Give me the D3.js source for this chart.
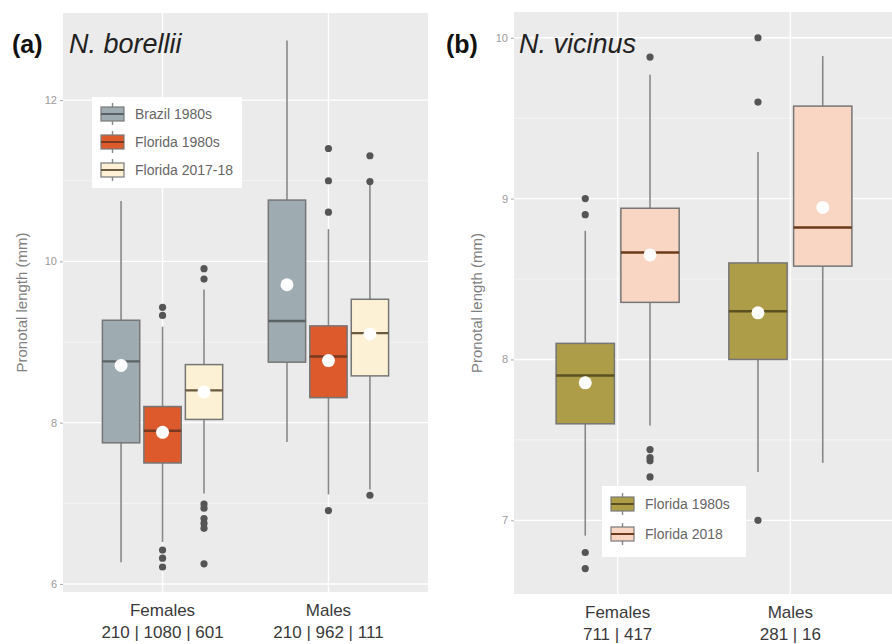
<!DOCTYPE html>
<html>
<head>
<meta charset="utf-8">
<script src="https://cdn.jsdelivr.net/npm/d3@7"></script>
<style>
  body { margin: 0; background: #fff; }
  svg { display: block; font-family: "Liberation Sans", Arial, sans-serif; }
</style>
</head>
<body>
<svg id="chart" width="892" height="644"></svg>
<script>
// ---- data ----
const sexes = ["Females", "Males"];

const groupsA = ["Brazil 1980s", "Florida 1980s", "Florida 2017-18"];
const countsA = ["210 | 1080 | 601", "210 | 962 | 111"];
// [sex, group, whiskerLow, q1, median, q3, whiskerHigh, mean]
const boxesA = [
  ["Females", "Brazil 1980s", 6.27, 7.75, 8.76, 9.27, 10.75, 8.71],
  ["Females", "Florida 1980s", 6.52, 7.50, 7.90, 8.20, 9.19, 7.88],
  ["Females", "Florida 2017-18", 7.12, 8.04, 8.40, 8.72, 9.65, 8.38],
  ["Males", "Brazil 1980s", 7.76, 8.75, 9.26, 10.76, 12.74, 9.71],
  ["Males", "Florida 1980s", 7.11, 8.31, 8.82, 9.20, 10.40, 8.77],
  ["Males", "Florida 2017-18", 7.17, 8.58, 9.11, 9.53, 10.95, 9.10]
];
const outliersA = [
  ["Females", "Florida 1980s", [9.43, 9.33, 6.42, 6.32, 6.21]],
  ["Females", "Florida 2017-18", [9.91, 9.78, 6.99, 6.94, 6.81, 6.75, 6.69, 6.25]],
  ["Males", "Florida 1980s", [11.40, 11.00, 10.61, 6.91]],
  ["Males", "Florida 2017-18", [11.31, 10.99, 7.10]]
];
const ticksA = [6, 8, 10, 12];
const minorA = [7, 9, 11];

const groupsB = ["Florida 1980s", "Florida 2018"];
const countsB = ["711 | 417", "281 | 16"];
const boxesB = [
  ["Females", "Florida 1980s", 6.905, 7.60, 7.90, 8.10, 8.80, 7.855],
  ["Females", "Florida 2018", 7.59, 8.355, 8.665, 8.94, 9.77, 8.65],
  ["Males", "Florida 1980s", 7.30, 8.00, 8.30, 8.60, 9.29, 8.29],
  ["Males", "Florida 2018", 7.357, 8.58, 8.82, 9.575, 9.886, 8.945]
];
const outliersB = [
  ["Females", "Florida 1980s", [9.00, 8.90, 6.80, 6.70]],
  ["Females", "Florida 2018", [9.88, 7.44, 7.39, 7.37, 7.27]],
  ["Males", "Florida 1980s", [10.00, 9.60, 7.00]]
];
const ticksB = [7, 8, 9, 10];
const minorB = [7.5, 8.5, 9.5];

// ---- styles ----
const fillA = { "Brazil 1980s": "#9eabb1", "Florida 1980s": "#dc5a2c", "Florida 2017-18": "#fcf1d4" };
const medA = { "Brazil 1980s": "#5b6266", "Florida 1980s": "#7a3a22", "Florida 2017-18": "#6a5a42" };
const fillB = { "Florida 1980s": "#ad9c48", "Florida 2018": "#f9d6c3" };
const medB = { "Florida 1980s": "#5a5022", "Florida 2018": "#6b3a1a" };

const svg = d3.select("#chart");

function drawPanel(cfg) {
  const g = svg.append("g");
  const { x0, x1, y0, y1 } = cfg.box;

  const y = d3.scaleLinear().domain(cfg.yDomain).range([y1, y0]);
  const x = d3.scaleBand().domain(sexes).range([x0, x1]).paddingInner(0).paddingOuter(0.1);
  const n = cfg.groups.length;
  const xg = d3.scaleBand().domain(cfg.groups).range([0, x.bandwidth()])
    .paddingInner(0).paddingOuter((n / 0.75 - n) / 2);
  const bw = xg.bandwidth() * 0.9;
  const cx = (sex, grp) => x(sex) + xg(grp) + xg.bandwidth() / 2;

  // panel background + grid
  g.append("rect").attr("x", x0).attr("y", y0)
    .attr("width", x1 - x0).attr("height", y1 - y0).attr("fill", "#ebebeb");
  g.selectAll(".minor").data(cfg.minor).join("line")
    .attr("x1", x0).attr("x2", x1)
    .attr("y1", d => y(d)).attr("y2", d => y(d))
    .attr("stroke", "#f7f7f7").attr("stroke-width", 0.8);
  g.selectAll(".major").data(cfg.ticks).join("line")
    .attr("x1", x0).attr("x2", x1)
    .attr("y1", d => y(d)).attr("y2", d => y(d))
    .attr("stroke", "#fff").attr("stroke-width", 1.4);
  g.selectAll(".vgrid").data(sexes).join("line")
    .attr("x1", d => x(d) + x.bandwidth() / 2).attr("x2", d => x(d) + x.bandwidth() / 2)
    .attr("y1", y0).attr("y2", y1)
    .attr("stroke", "#fff").attr("stroke-width", 1.4);

  // y axis
  const yAxis = g.append("g").attr("transform", `translate(${x0},0)`)
    .call(d3.axisLeft(y).tickValues(cfg.ticks).tickSize(3).tickPadding(3).tickFormat(d3.format("d")));
  yAxis.select(".domain").remove();
  yAxis.selectAll("line").attr("stroke", "#aaa");
  yAxis.selectAll("text").attr("fill", "#9a9a9a").style("font-size", "11px");

  g.append("text")
    .attr("transform", `translate(${cfg.yLabelX},${(y0 + y1) / 2}) rotate(-90)`)
    .attr("text-anchor", "middle").attr("dominant-baseline", "central")
    .attr("fill", "#808080").style("font-size", "15px")
    .text("Pronotal length (mm)");

  // x labels
  sexes.forEach((s, i) => {
    const xc = x(s) + x.bandwidth() / 2;
    g.append("text").attr("x", xc).attr("y", y1 + 24).attr("text-anchor", "middle")
      .attr("fill", "#3a3a3a").style("font-size", "17px").text(s);
    g.append("text").attr("x", xc).attr("y", y1 + 46).attr("text-anchor", "middle")
      .attr("fill", "#3a3a3a").style("font-size", "17px").text(cfg.counts[i]);
  });

  // whiskers + boxes
  cfg.boxes.forEach(b => {
    const [sex, grp, lo, q1, med, q3, hi] = b;
    const c = cx(sex, grp);
    g.append("line").attr("x1", c).attr("x2", c).attr("y1", y(hi)).attr("y2", y(q3))
      .attr("stroke", "#888").attr("stroke-width", 1.6);
    g.append("line").attr("x1", c).attr("x2", c).attr("y1", y(q1)).attr("y2", y(lo))
      .attr("stroke", "#888").attr("stroke-width", 1.6);
    g.append("rect").attr("x", c - bw / 2).attr("y", y(q3))
      .attr("width", bw).attr("height", y(q1) - y(q3))
      .attr("fill", cfg.fill[grp]).attr("stroke", "#767676").attr("stroke-width", 1.5);
    g.append("line").attr("x1", c - bw / 2).attr("x2", c + bw / 2)
      .attr("y1", y(med)).attr("y2", y(med))
      .attr("stroke", cfg.med[grp]).attr("stroke-width", 2.4);
  });

  // outliers
  cfg.outliers.forEach(([sex, grp, vals]) => {
    g.selectAll(null).data(vals).join("circle")
      .attr("cx", cx(sex, grp)).attr("cy", d => y(d)).attr("r", 3.6)
      .attr("fill", "#555");
  });

  // means
  g.selectAll(".mean").data(cfg.boxes).join("circle")
    .attr("cx", d => cx(d[0], d[1])).attr("cy", d => y(d[7])).attr("r", 6.5)
    .attr("fill", "#fff");

  // legend
  const L = cfg.legend;
  const lg = g.append("g");
  lg.append("rect").attr("x", L.x).attr("y", L.y).attr("width", L.w).attr("height", L.h)
    .attr("fill", "#fff");
  cfg.groups.forEach((grp, i) => {
    const ry = L.y + L.first + i * L.step;
    const kx = L.x + 9;
    lg.append("line").attr("x1", kx + 11.5).attr("x2", kx + 11.5)
      .attr("y1", ry - 11).attr("y2", ry + 11).attr("stroke", "#888").attr("stroke-width", 1.4);
    lg.append("rect").attr("x", kx).attr("y", ry - 7).attr("width", 23).attr("height", 14)
      .attr("fill", cfg.fill[grp]).attr("stroke", "#7a7a7a").attr("stroke-width", 1.2);
    lg.append("line").attr("x1", kx).attr("x2", kx + 23).attr("y1", ry).attr("y2", ry)
      .attr("stroke", cfg.med[grp]).attr("stroke-width", 2);
    lg.append("text").attr("x", L.x + 43).attr("y", ry).attr("dominant-baseline", "central")
      .attr("fill", "#666").style("font-size", "14px").text(grp);
  });

  // titles
  g.append("text").attr("x", cfg.tag.x).attr("y", 53).attr("fill", "#111")
    .style("font-size", "25px").style("font-weight", "bold").text(cfg.tag.text);
  g.append("text").attr("x", cfg.species.x).attr("y", 53).attr("fill", "#222")
    .style("font-size", "27px").style("font-style", "italic").text(cfg.species.text);
}

drawPanel({
  box: { x0: 63, x1: 428, y0: 13, y1: 592 },
  yDomain: [5.9, 13.08],
  ticks: ticksA, minor: minorA,
  groups: groupsA, counts: countsA,
  boxes: boxesA, outliers: outliersA,
  fill: fillA, med: medA,
  yLabelX: 21,
  legend: { x: 92, y: 97, w: 150, h: 91, first: 17, step: 28 },
  tag: { x: 12, text: "(a)" },
  species: { x: 69, text: "N. borellii" }
});

drawPanel({
  box: { x0: 514, x1: 894, y0: 12, y1: 594 },
  yDomain: [6.542, 10.16],
  ticks: ticksB, minor: minorB,
  groups: groupsB, counts: countsB,
  boxes: boxesB, outliers: outliersB,
  fill: fillB, med: medB,
  yLabelX: 476,
  legend: { x: 602, y: 486, w: 144, h: 71, first: 18, step: 30 },
  tag: { x: 446, text: "(b)" },
  species: { x: 519, text: "N. vicinus" }
});
</script>
</body>
</html>
